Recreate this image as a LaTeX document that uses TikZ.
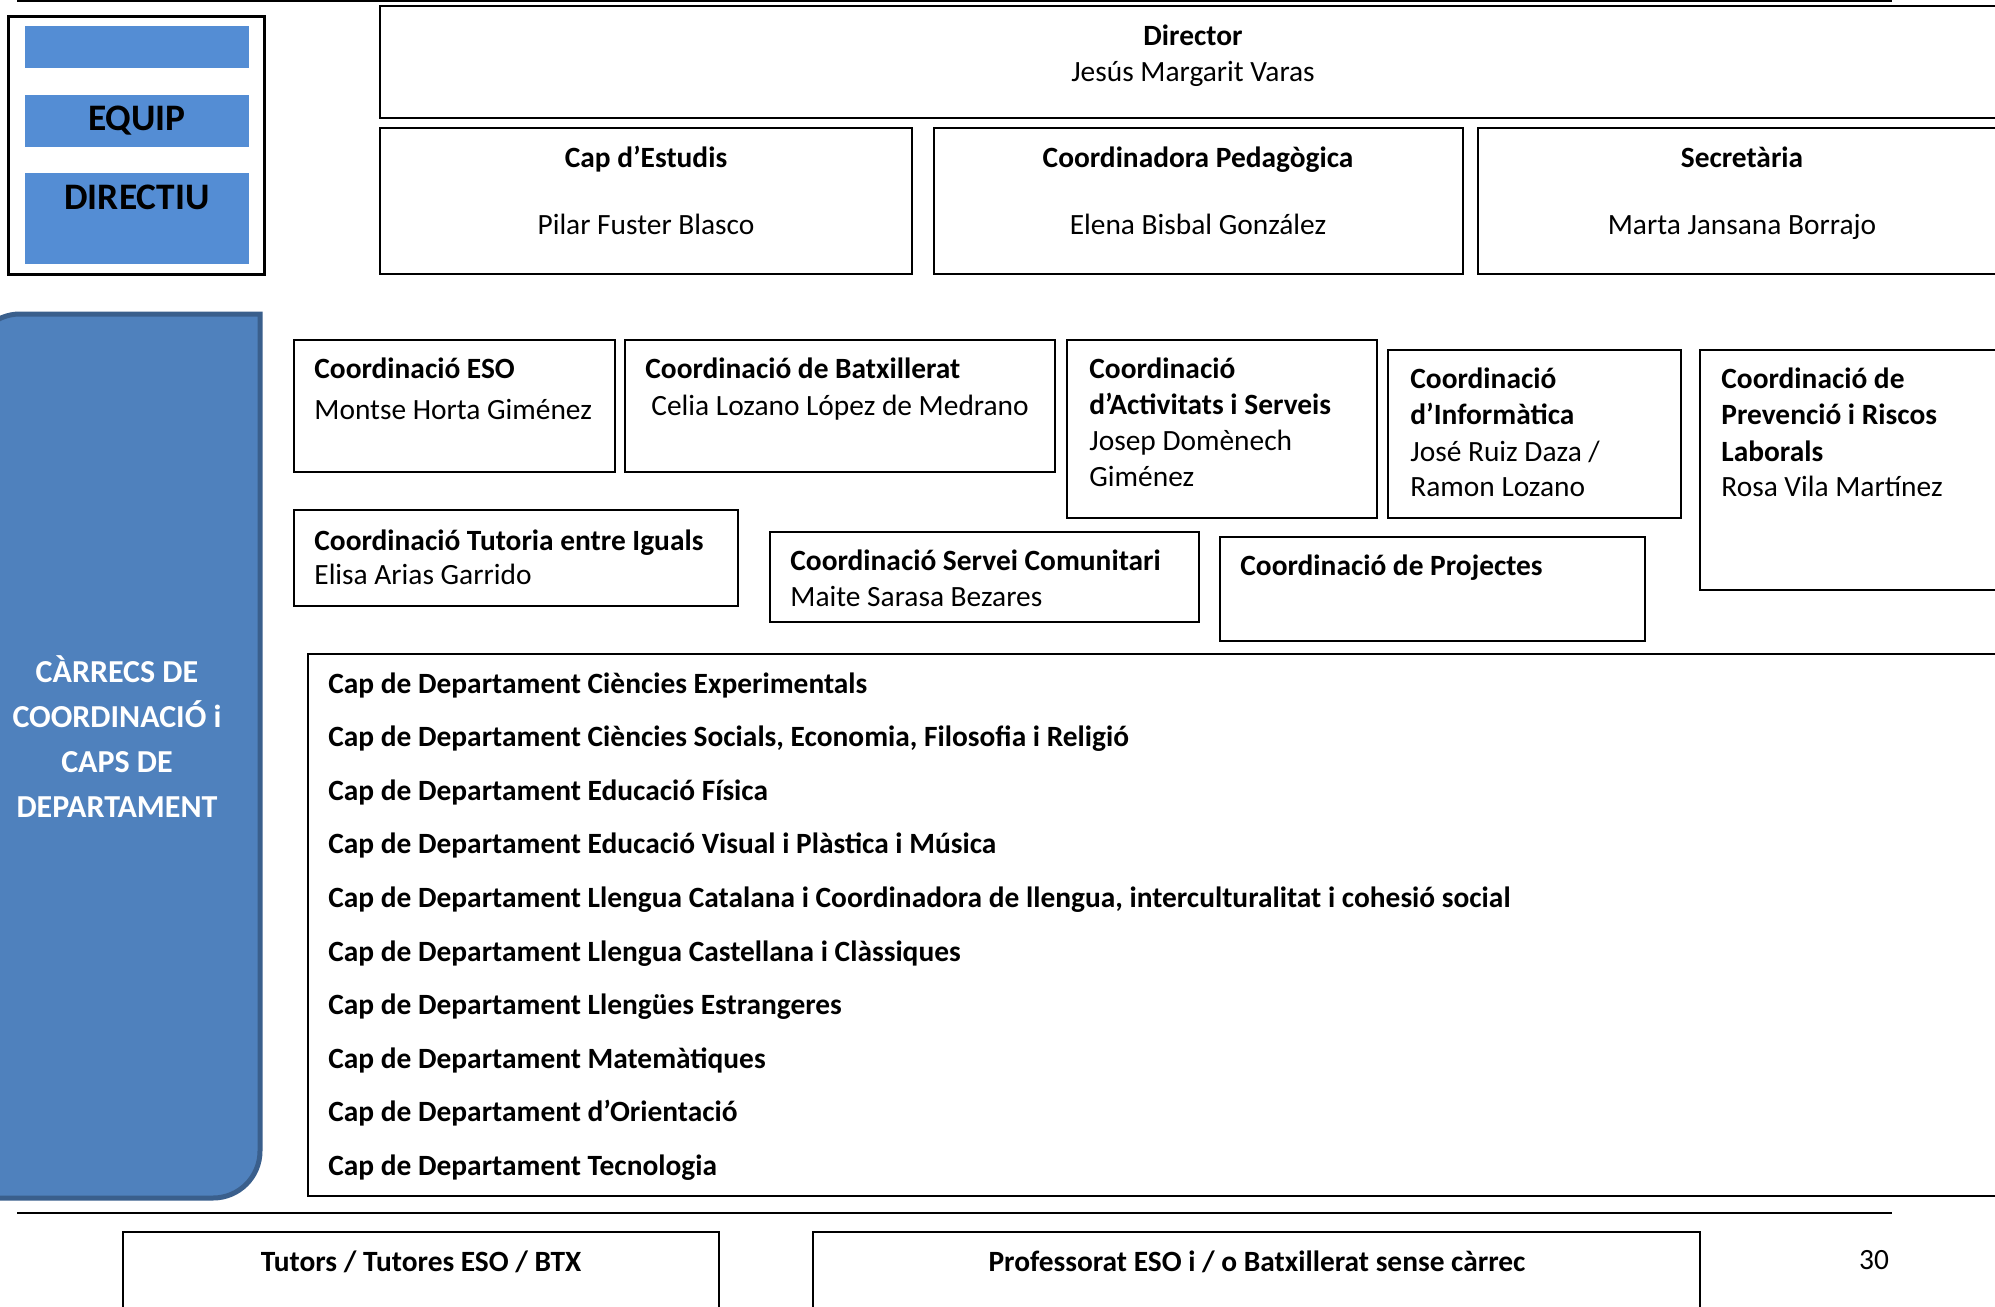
\documentclass[tikz,border=0pt]{standalone}
\usepackage{fontspec}
\setmainfont{Carlito}
\usetikzlibrary{fit}
\definecolor{barblue}{RGB}{84,141,212}
\definecolor{boxblue}{RGB}{79,129,189}
\definecolor{edgeblue}{RGB}{58,95,140}
\tikzset{
  box/.style={draw, line width=1pt, inner sep=0pt},
  txt/.style={anchor=base west, inner sep=0pt, font=\fontsize{14.7}{18}\selectfont},
  btxt/.style={anchor=base west, inner sep=0pt, font=\fontsize{14.7}{18}\selectfont\bfseries},
  ctxt/.style={anchor=base, inner sep=0pt, font=\fontsize{14.7}{18}\selectfont},
  cbtxt/.style={anchor=base, inner sep=0pt, font=\fontsize{14.7}{18}\selectfont\bfseries},
  wtxt/.style={anchor=base, inner sep=0pt, text=white, font=\fontsize{16}{20}\selectfont\bfseries},
  bigtxt/.style={anchor=base, inner sep=0pt, font=\fontsize{18.7}{22}\selectfont\bfseries},
  rule/.style={line width=1.2pt},
}
\newcommand{\bx}[5]{\node[box, fit={(#2,#3) (#4,#5)}] (#1) {};}
\begin{document}
\begin{tikzpicture}[x=0.5pt,y=-0.5pt]
\useasboundingbox (0,0) rectangle (1995,1306);
\fill[white] (0,0) rectangle (1995,1306);
\clip (0,0) rectangle (1995,1306);

% top rule
\coordinate (tl1) at (17,1); \coordinate (tl2) at (1892,1);
\draw[rule] (tl1) -- (tl2);

% Equip directiu
\node[draw, line width=1.5pt, inner sep=0pt, fit={(8,16) (264,274)}] (equip) {};
\node[fill=barblue, inner sep=0pt, fit={(25,26) (249,68)}] (bar1) {};
\node[fill=barblue, inner sep=0pt, fit={(25,95) (249,147)}] (bar2) {};
\node[fill=barblue, inner sep=0pt, fit={(25,173) (249,264)}] (bar3) {};
\node[bigtxt] (tequip) at (137,130) {EQUIP};
\node[bigtxt] (tdir) at (137,209) {DIRECTIU};

% Director row
\bx{director}{380}{6}{2008}{118}
\node[cbtxt] (tdir1) at (1193,45) {Director};
\node[ctxt] (tdir2) at (1193,81) {Jesús Margarit Varas};

\bx{estudis}{380}{128}{912}{274}
\node[cbtxt] (test1) at (646,167) {Cap d’Estudis};
\node[ctxt] (test2) at (646,234) {Pilar Fuster Blasco};
\bx{pedag}{934}{128}{1463}{274}
\node[cbtxt] (tped1) at (1198,167) {Coordinadora Pedagògica};
\node[ctxt] (tped2) at (1198,234) {Elena Bisbal González};
\bx{secret}{1478}{128}{2008}{274}
\node[cbtxt] (tsec1) at (1742,167) {Secretària};
\node[ctxt] (tsec2) at (1742,234) {Marta Jansana Borrajo};

% blue side panel
\draw[fill=boxblue, draw=edgeblue, line width=2.5pt]
  (-27,1198) -- (-27,361) .. controls (-27,335) and (-6,314) .. (20,314)
  -- (260,314) -- (260,1151) .. controls (260,1177) and (239,1198) .. (213,1198) -- cycle;
\node[wtxt] (b1) at (117,682) {CÀRRECS DE};
\node[wtxt] (b2) at (117,727) {COORDINACIÓ i};
\node[wtxt] (b3) at (117,772) {CAPS DE};
\node[wtxt] (b4) at (117,817) {DEPARTAMENT};

% coordination boxes
\bx{eso}{294}{340}{615}{472}
\node[btxt] (eso1) at (314,378) {Coordinació ESO};
\node[txt] (eso2) at (314,419) {Montse Horta Giménez};

\bx{batx}{625}{340}{1055}{472}
\node[btxt] (batx1) at (645,378) {Coordinació de Batxillerat};
\node[txt] (batx2) at (651,415) {Celia Lozano López de Medrano};

\bx{activ}{1067}{340}{1377}{518}
\node[btxt] (act1) at (1089,378) {Coordinació};
\node[btxt] (act2) at (1089,414) {d’Activitats i Serveis};
\node[txt] (act3) at (1089,450) {Josep Domènech};
\node[txt] (act4) at (1089,486) {Giménez};

\bx{infor}{1388}{350}{1681}{518}
\node[btxt] (inf1) at (1410,388) {Coordinació};
\node[btxt] (inf2) at (1410,424) {d’Informàtica};
\node[txt] (inf3) at (1410,461) {José Ruiz Daza /};
\node[txt] (inf4) at (1410,496) {Ramon Lozano};

\bx{prev}{1700}{350}{2008}{590}
\node[btxt] (prv1) at (1721,388) {Coordinació de};
\node[btxt] (prv2) at (1721,424) {Prevenció i Riscos};
\node[btxt] (prv3) at (1721,461) {Laborals};
\node[txt] (prv4) at (1721,496) {Rosa Vila Martínez};

\bx{tutoria}{294}{510}{738}{606}
\node[btxt] (tut1) at (314,550) {Coordinació Tutoria entre Iguals};
\node[txt] (tut2) at (314,584) {Elisa Arias Garrido};

\bx{servei}{770}{532}{1199}{622}
\node[btxt] (ser1) at (790,570) {Coordinació Servei Comunitari};
\node[txt] (ser2) at (790,606) {Maite Sarasa Bezares};

\bx{proj}{1220}{537}{1645}{641}
\node[btxt] (prj1) at (1240,575) {Coordinació de Projectes};

% departments
\bx{dept}{308}{654}{2008}{1196}
\node[btxt] (d1) at (328,693) {Cap de Departament Ciències Experimentals};
\node[btxt] (d2) at (328,746.6) {Cap de Departament Ciències Socials, Economia, Filosofia i Religió};
\node[btxt] (d3) at (328,800.2) {Cap de Departament Educació Física};
\node[btxt] (d4) at (328,853.8) {Cap de Departament Educació Visual i Plàstica i Música};
\node[btxt] (d5) at (328,907.4) {Cap de Departament Llengua Catalana i Coordinadora de llengua, interculturalitat i cohesió social};
\node[btxt] (d6) at (328,961) {Cap de Departament Llengua Castellana i Clàssiques};
\node[btxt] (d7) at (328,1014.6) {Cap de Departament Llengües Estrangeres};
\node[btxt] (d8) at (328,1068.2) {Cap de Departament Matemàtiques};
\node[btxt] (d9) at (328,1121.8) {Cap de Departament d’Orientació};
\node[btxt] (d10) at (328,1175.4) {Cap de Departament Tecnologia};

% bottom rule
\coordinate (bl1) at (17,1213); \coordinate (bl2) at (1892,1213);
\draw[rule] (bl1) -- (bl2);

\bx{tutors}{123}{1232}{719}{1330}
\node[cbtxt] (tt) at (421,1271) {Tutors / Tutores ESO / BTX};
\bx{prof}{813}{1232}{1700}{1330}
\node[cbtxt] (tp) at (1257,1271) {Professorat ESO i / o Batxillerat sense càrrec};
\node[ctxt] (page) at (1874,1269) {30};
\end{tikzpicture}
\end{document}
